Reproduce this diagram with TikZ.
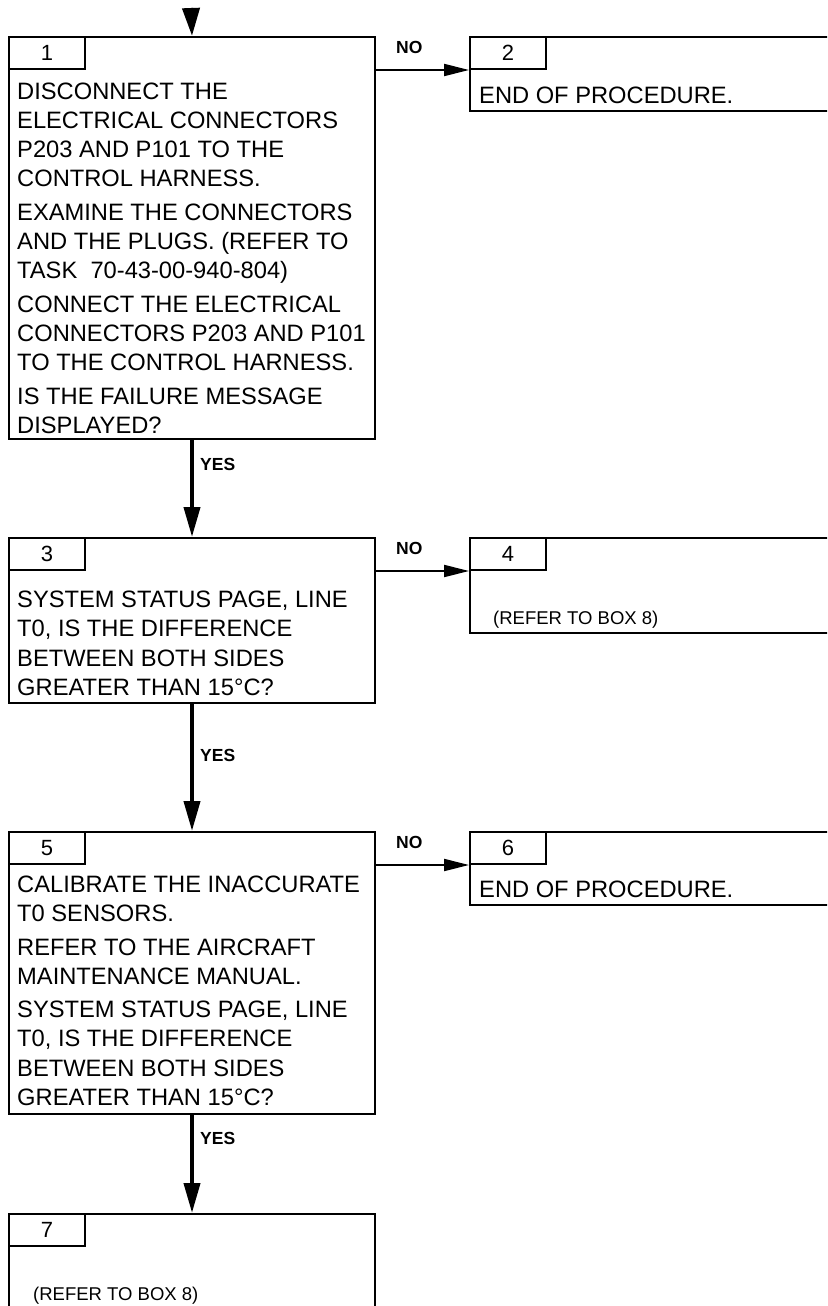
\documentclass[tikz,border=0pt]{standalone}
\usepackage{fontspec}
\setmainfont{Liberation Sans}
\usetikzlibrary{arrows.meta}

\begin{document}
\begin{tikzpicture}[x=1pt,y=-1pt]
\tikzset{box/.style={draw,line width=2pt,anchor=north west,inner sep=0pt,minimum width=366pt},
         sbox/.style={draw,line width=2pt,anchor=north west,inner sep=0pt,minimum width=420pt},
         num/.style={draw,line width=2pt,anchor=north west,inner sep=0pt,minimum width=76pt,minimum height=32pt,font=\fontsize{22}{22}\selectfont},
         txt/.style={anchor=north west,inner sep=0pt,align=left,font=\fontsize{23.7}{29.3}\selectfont},
         one/.style={anchor=base west,inner sep=0pt,font=\fontsize{23.7}{29.3}\selectfont},
         ref/.style={anchor=base west,inner sep=0pt,font=\fontsize{18.5}{20}\selectfont},
         lab/.style={anchor=west,inner sep=0pt,font=\fontsize{17.5}{18}\selectfont\bfseries},
         yes/.style={line width=4pt,-{Triangle[length=30pt,width=16pt]}},
         no/.style={line width=2pt,-{Triangle[length=25pt,width=12pt]}}}
\useasboundingbox (0,0) rectangle (827,1306);
\clip (0,0) rectangle (827,1306);
\node[box,minimum height=402pt] (b1) at (8,36) {};
\node[sbox,minimum height=74pt] (b2) at (469,36) {};
\node[box,minimum height=165pt] (b3) at (8,537) {};
\node[sbox,minimum height=95pt] (b4) at (469,537) {};
\node[box,minimum height=282pt] (b5) at (8,831) {};
\node[sbox,minimum height=73pt] (b6) at (469,831) {};
\node[box,minimum height=140pt] (b7) at (8,1213) {};
\node[num] (n1) at (b1.north west) {1};
\node[num] (n2) at (b2.north west) {2};
\node[num] (n3) at (b3.north west) {3};
\node[num] (n4) at (b4.north west) {4};
\node[num] (n5) at (b5.north west) {5};
\node[num] (n6) at (b6.north west) {6};
\node[num] (n7) at (b7.north west) {7};
\node[txt] (t1) at (17,82.3) {DISCONNECT THE\\ELECTRICAL CONNECTORS\\P203 AND P101 TO THE\\CONTROL HARNESS.\\[4pt]EXAMINE THE CONNECTORS\\AND THE PLUGS. (REFER TO\\TASK\ \ 70-43-00-940-804)\\[4pt]CONNECT THE ELECTRICAL\\CONNECTORS P203 AND P101\\TO THE CONTROL HARNESS.\\[4pt]IS THE FAILURE MESSAGE\\DISPLAYED?};
\node[one] (t2) at (479,103) {END OF PROCEDURE.};
\node[txt] (t3) at (17,590.7) {SYSTEM STATUS PAGE, LINE\\T0, IS THE DIFFERENCE\\BETWEEN BOTH SIDES\\GREATER THAN 15°C?};
\node[ref] (t4) at (493,624) {(REFER TO BOX 8)};
\node[txt] (t5) at (17,875.7) {CALIBRATE THE INACCURATE\\T0 SENSORS.\\[4pt]REFER TO THE AIRCRAFT\\MAINTENANCE MANUAL.\\[4pt]SYSTEM STATUS PAGE, LINE\\T0, IS THE DIFFERENCE\\BETWEEN BOTH SIDES\\GREATER THAN 15°C?};
\node[one] (t6) at (479,897) {END OF PROCEDURE.};
\node[ref] (t7) at (33,1300) {(REFER TO BOX 8)};
\coordinate (in) at (191,8);
\draw[line width=4pt,-{Triangle[length=28pt,width=17pt]}] (in) -- (b1.north);
\draw[yes] (b1.south) -- (b3.north);
\draw[yes] (b3.south) -- (b5.north);
\draw[yes] (b5.south) -- (b7.north);
\draw[no] (b1.east |- n2.south) -- (n2.south west);
\draw[no] (b3.east |- n4.south) -- (n4.south west);
\draw[no] (b5.east |- n6.south) -- (n6.south west);
\node[lab] (no1) at (396,47) {NO};
\node[lab] (no3) at (396,548) {NO};
\node[lab] (no5) at (396,842) {NO};
\node[lab] (yes1) at (200,464) {YES};
\node[lab] (yes3) at (200,755) {YES};
\node[lab] (yes5) at (200,1138) {YES};
\end{tikzpicture}
\end{document}
